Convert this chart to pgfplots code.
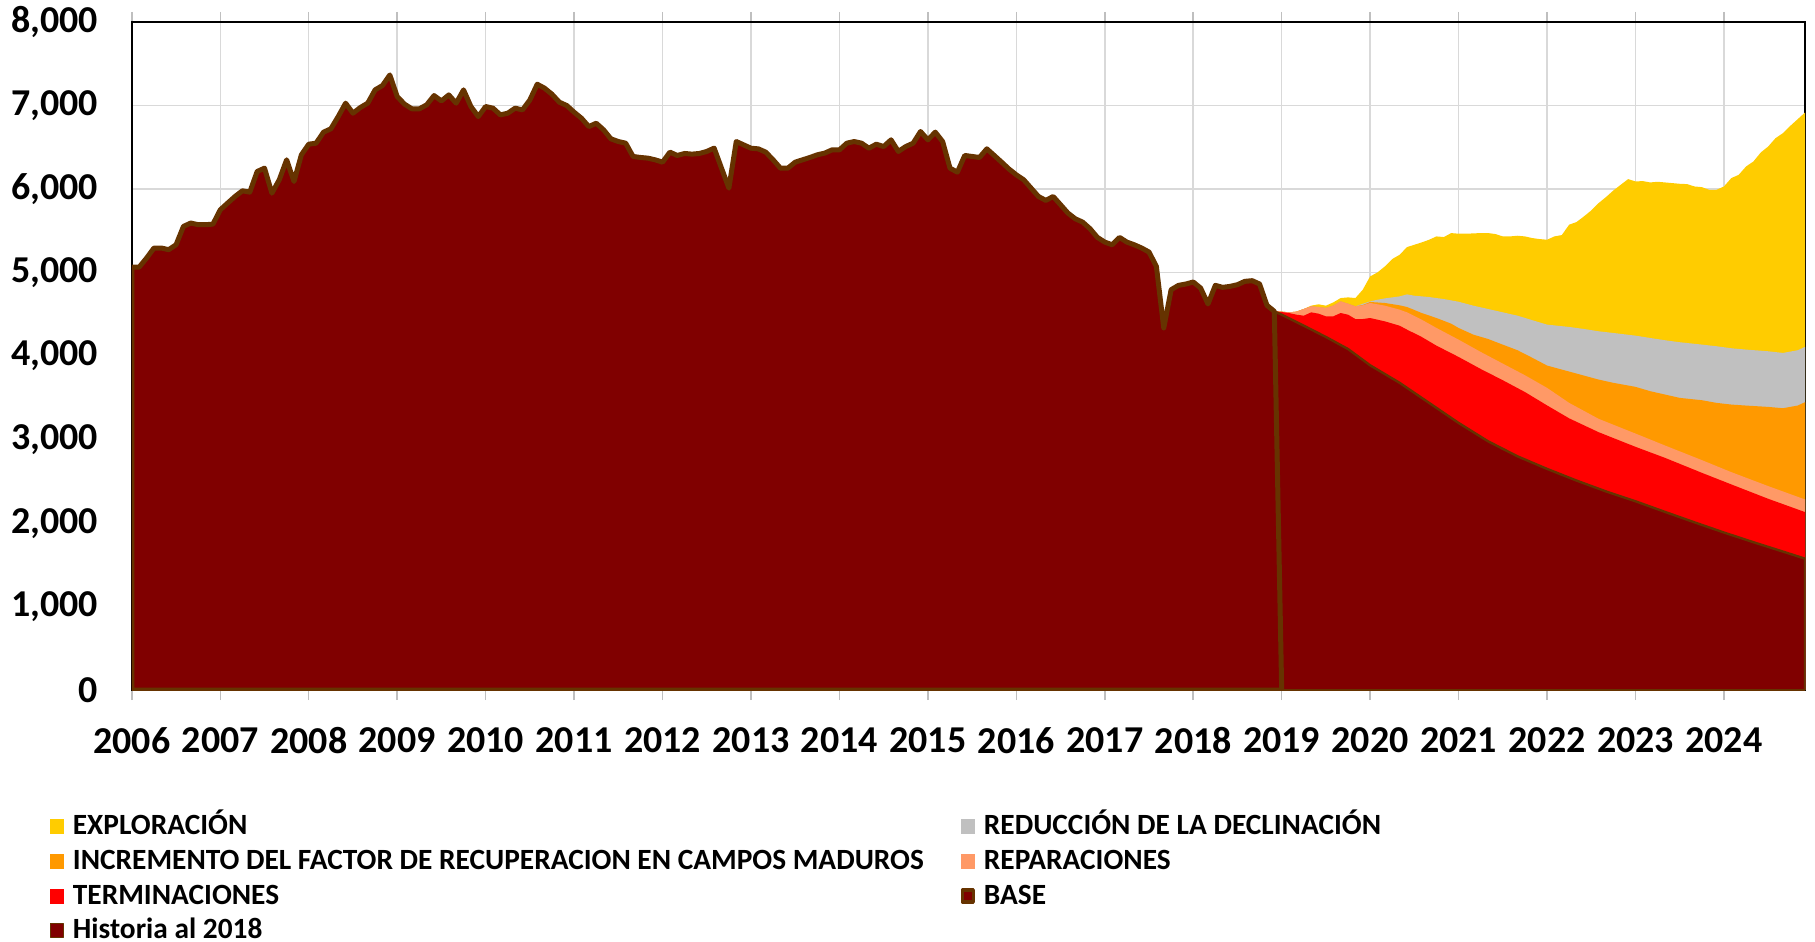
\documentclass[border=0pt]{standalone}
\usepackage{pgfplots}
\pgfplotsset{compat=1.18}
\usepackage{fontspec}
\setmainfont{Carlito}
\definecolor{hist}{RGB}{128,0,0}
\definecolor{brn}{RGB}{102,51,0}
\definecolor{expl}{RGB}{255,204,0}
\definecolor{redu}{RGB}{192,192,192}
\definecolor{incr}{RGB}{255,153,0}
\definecolor{repa}{RGB}{255,153,102}
\definecolor{term}{RGB}{255,0,0}
\begin{document}
\begin{tikzpicture}
\begin{axis}[
  name=ax,
  scale only axis, width=837.5pt, height=334.5pt,
  xmin=0, xmax=227, ymin=0, ymax=8000,
  xtick={0,12,24,36,48,60,72,84,96,108,120,132,144,156,168,180,192,204,216},
  xticklabels={2006,2007,2008,2009,2010,2011,2012,2013,2014,2015,2016,2017,2018,2019,2020,2021,2022,2023,2024},
  ytick={0,1000,2000,3000,4000,5000,6000,7000,8000},
  scaled y ticks=false,
  /pgf/number format/.cd, fixed, 1000 sep={,}, assume math mode=true, /pgfplots/.cd,
  grid=major,
  major grid style={draw=black!15, line width=0.75pt},
  axis line style={black, line width=1pt},
  tick align=outside,
  xtick style={draw=black!25, line width=0.75pt},
  major tick length=5pt,
  ytick style={draw=none},
  ticklabel style={font=\fontsize{19}{22}\selectfont\bfseries},
  xticklabel style={anchor=center, inner sep=0pt, yshift=-20pt},
  yticklabel style={anchor=east, inner sep=0pt, xshift=-11.7pt},
  legend columns=2,
  legend cell align=left,
  legend style={at={(axis description cs:0,0)}, anchor=north west,
    xshift=-41pt, yshift=-64.2pt, draw=none, fill=none,
    inner sep=0pt, outer sep=0pt,
    font=\fontsize{14.7}{17}\selectfont\bfseries,
    row sep=9.4pt,
    nodes={inner xsep=1pt, inner ysep=0pt, text height=8pt, text depth=0pt},
    /tikz/every odd column/.append style={column sep=3.5pt},
    /tikz/every even column/.append style={column sep=17.5pt}},
]
% EXPLORACION (cumulative top)
\addplot[fill=expl, draw=none, legend image code/.code={\fill[expl] (0pt,-3.75pt) rectangle (7pt,3.75pt);}] table {
155 4536
156 4532
157 4524
158 4532
159 4564
160 4604
161 4620
162 4604
163 4643
164 4695
165 4703
166 4695
167 4795
168 4954
169 5002
170 5074
171 5162
172 5213
173 5305
174 5333
175 5361
176 5393
177 5433
178 5425
179 5473
180 5465
181 5465
182 5469
183 5473
184 5473
185 5461
186 5433
187 5433
188 5441
189 5433
190 5413
191 5401
192 5393
193 5433
194 5449
195 5573
196 5605
197 5672
198 5744
199 5832
200 5904
201 5983
202 6051
203 6119
204 6091
205 6095
206 6079
207 6087
208 6079
209 6071
210 6063
211 6059
212 6031
213 6023
214 5991
215 5991
216 6031
217 6131
218 6170
219 6270
220 6330
221 6438
222 6509
223 6609
224 6669
225 6756
226 6836
227 6916
} \closedcycle;
\addlegendentry{EXPLORACIÓN}
% REDUCCION DE LA DECLINACION
\addplot[fill=redu, draw=none, legend image code/.code={\fill[redu] (0pt,-3.75pt) rectangle (7pt,3.75pt);}] table {
155 4536
156 4532
157 4524
158 4532
159 4564
160 4596
161 4588
162 4576
163 4604
164 4655
165 4627
166 4596
167 4627
168 4655
169 4675
170 4691
172 4715
173 4739
174 4723
176 4707
178 4683
180 4651
182 4604
184 4564
186 4524
188 4484
190 4430
192 4377
195 4349
197 4325
199 4297
201 4277
204 4245
206 4217
208 4190
210 4166
213 4138
215 4118
217 4094
219 4078
222 4058
224 4038
226 4070
227 4110
} \closedcycle;
\addlegendentry{REDUCCIÓN DE LA DECLINACIÓN}
% INCREMENTO DEL FACTOR DE RECUPERACION
\addplot[fill=incr, draw=none, legend image code/.code={\fill[incr] (0pt,-3.75pt) rectangle (7pt,3.75pt);}] table {
155 4536
156 4532
157 4524
158 4532
159 4564
160 4596
161 4588
162 4576
163 4604
164 4655
165 4627
166 4596
167 4612
168 4648
170 4636
172 4608
173 4588
175 4516
177 4456
179 4388
180 4337
182 4257
184 4205
186 4137
188 4070
190 3980
192 3887
195 3815
197 3767
199 3719
201 3680
204 3632
206 3580
208 3540
210 3500
213 3472
215 3440
217 3420
219 3408
222 3392
224 3376
226 3408
227 3448
} \closedcycle;
\addlegendentry{INCREMENTO DEL FACTOR DE RECUPERACION EN CAMPOS MADUROS}
% REPARACIONES
\addplot[fill=repa, draw=none, legend image code/.code={\fill[repa] (0pt,-3.75pt) rectangle (7pt,3.75pt);}] table {
155 4536
156 4532
157 4524
158 4532
159 4564
160 4596
161 4588
162 4576
163 4604
164 4655
165 4627
166 4596
167 4608
168 4636
170 4604
172 4556
173 4524
175 4436
177 4337
180 4197
183 4050
186 3910
189 3771
192 3620
195 3440
199 3249
204 3073
208 2930
213 2755
217 2611
222 2444
227 2284
} \closedcycle;
\addlegendentry{REPARACIONES}
% TERMINACIONES
\addplot[fill=term, draw=none, legend image code/.code={\fill[term] (0pt,-3.75pt) rectangle (7pt,3.75pt);}] table {
155 4536
156 4528
157 4516
158 4496
159 4484
160 4524
161 4508
162 4476
163 4476
164 4516
165 4496
166 4444
167 4444
168 4456
170 4416
172 4364
173 4317
175 4229
177 4125
180 3990
183 3846
186 3711
189 3570
192 3410
195 3255
199 3089
204 2914
208 2782
213 2603
217 2464
222 2292
227 2133
} \closedcycle;
\addlegendentry{TERMINACIONES}
% BASE
\addplot[fill=hist, draw=brn, line width=1.2pt, line join=round,
  legend image code/.code={\filldraw[fill=hist, draw=brn, line width=1.6pt] (0.8pt,-3pt) rectangle (6.2pt,3pt);}] table {
155 4536
156 4496
159 4364
162 4229
165 4085
168 3890
172 3680
176 3440
180 3200
184 2980
188 2800
192 2650
196 2510
200 2380
204 2262
208 2135
212 2010
216 1888
220 1772
224 1660
227 1575
227 0
156 0
} -- cycle;
\addlegendentry{BASE}
% Historia al 2018
\addplot[fill=hist, draw=brn, line width=2.5pt, line join=round,
  legend image code/.code={\filldraw[fill=hist, draw=brn, line width=0.6pt] (0.3pt,-3.45pt) rectangle (6.7pt,3.45pt);}] table {
0 5066
1 5066
2 5174
3 5294
4 5294
5 5274
6 5333
7 5553
8 5593
9 5573
10 5573
11 5580
12 5752
13 5832
14 5911
15 5979
16 5963
17 6210
18 6250
19 5951
20 6111
21 6350
22 6091
23 6410
24 6537
25 6549
26 6681
27 6721
28 6868
29 7028
30 6908
31 6976
32 7028
33 7187
34 7239
35 7366
36 7107
37 7016
38 6960
39 6960
40 7008
41 7119
42 7055
43 7127
44 7028
45 7187
46 6988
47 6868
48 6988
49 6968
50 6888
51 6908
52 6968
53 6948
54 7067
55 7255
56 7207
57 7135
58 7040
59 7000
60 6920
61 6848
62 6748
63 6788
64 6709
65 6601
66 6569
67 6549
68 6390
69 6378
70 6370
71 6350
72 6322
73 6442
74 6402
75 6426
76 6418
77 6426
78 6450
79 6490
80 6250
81 6011
82 6569
83 6529
84 6489
85 6481
86 6442
87 6350
88 6250
89 6250
90 6322
91 6350
92 6378
93 6410
94 6430
95 6469
96 6469
97 6549
98 6569
99 6549
100 6489
101 6537
102 6509
103 6589
104 6450
105 6509
106 6549
107 6689
108 6589
109 6681
110 6569
111 6250
112 6202
113 6402
114 6390
115 6378
116 6481
117 6402
118 6322
119 6240
120 6170
121 6111
122 6011
123 5911
124 5864
125 5911
126 5812
127 5712
128 5644
129 5604
130 5525
131 5421
132 5365
133 5333
134 5421
135 5365
136 5333
137 5294
138 5246
139 5074
140 4337
141 4795
142 4847
143 4863
144 4887
145 4815
146 4624
147 4847
148 4823
149 4835
150 4855
151 4895
152 4903
153 4863
154 4608
155 4536
156 0
} \closedcycle;
\addlegendentry{Historia al 2018}
\end{axis}
\path (ax.south west) ++(-66pt,-126pt);
\path (ax.north east) ++(4pt,11pt);
\end{tikzpicture}
\end{document}
